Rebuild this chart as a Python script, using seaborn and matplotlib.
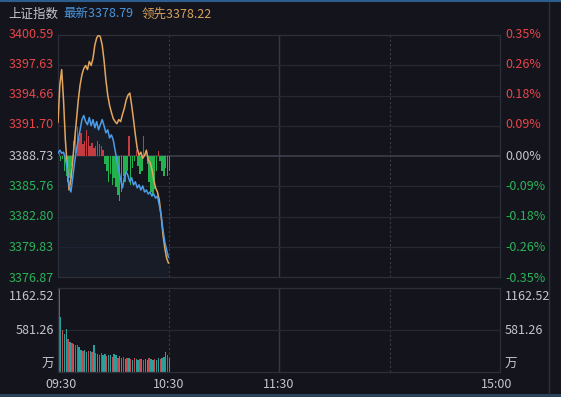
import numpy as np
import pandas as pd
import matplotlib
matplotlib.use('Agg')
import matplotlib.pyplot as plt
import seaborn as sns

sns.set_theme(style='dark')
plt.rcParams['font.family'] = ['Noto Sans CJK SC', 'DejaVu Sans']

# ---------------- data ----------------
prev_close = 3388.73
price_ticks = [3400.59, 3397.63, 3394.66, 3391.70, 3388.73, 3385.76, 3382.80, 3379.83, 3376.87]
pct_labels = ['0.35%', '0.26%', '0.18%', '0.09%', '0.00%', '-0.09%', '-0.18%', '-0.26%', '-0.35%']
vol_ticks = [1162.52, 581.26, 0]
vol_labels = ['1162.52', '581.26', '万']
time_labels = ['09:30', '10:30', '11:30', '15:00']
time_minutes = [0, 60, 120, 240]

price = [3389.0, 3389.3, 3389.0, 3389.1, 3388.5, 3387.4, 3385.9, 3385.2, 3386.6, 3388.1,
         3389.3, 3390.3, 3391.3, 3392.3, 3392.7, 3392.1, 3391.8, 3392.5, 3391.7, 3392.3,
         3391.5, 3392.1, 3391.3, 3391.8, 3392.3, 3391.7, 3391.0, 3391.3, 3390.5, 3390.8,
         3390.3, 3389.3, 3388.3, 3387.4, 3386.4, 3385.6, 3386.6, 3387.2, 3386.8, 3386.2,
         3386.6, 3385.9, 3386.2, 3385.6, 3385.9, 3385.4, 3385.8, 3385.2, 3385.4, 3385.0,
         3385.2, 3384.8, 3385.0, 3384.6, 3384.8, 3383.9, 3382.9, 3381.5, 3380.3, 3379.5,
         3378.79]
leading = [3392.0, 3395.7, 3397.2, 3394.2, 3390.3, 3387.8, 3385.4, 3386.4, 3388.3, 3390.3,
           3392.2, 3394.2, 3395.7, 3396.7, 3397.3, 3397.6, 3397.2, 3398.0, 3397.6, 3398.3,
           3399.6, 3400.3, 3400.6, 3400.4, 3399.6, 3398.1, 3396.2, 3394.7, 3393.7, 3393.0,
           3392.4, 3392.1, 3391.9, 3392.3, 3392.1, 3392.8, 3393.4, 3394.2, 3394.7, 3394.9,
           3393.7, 3392.3, 3390.8, 3389.5, 3388.8, 3389.1, 3388.5, 3388.8, 3389.3, 3388.3,
           3388.1, 3387.4, 3386.4, 3385.6, 3385.2, 3384.4, 3382.9, 3381.0, 3379.7, 3378.7,
           3378.22]
strength = [0.3, -0.5, -0.3, -1.5, -2.0, -2.5, -2.2, -1.0, 1.5, 2.6,
            2.8, 1.8, 2.3, 1.2, 1.5, 2.5, 2.0, 1.0, 1.3, 0.8,
            1.0, 1.5, 1.2, 1.0, 0.6, -0.8, -1.5, -2.5, -1.8, -2.8,
            -2.2, -3.0, -3.8, -4.4, -3.5, -2.0, -2.5, -1.5, 2.0, -2.8,
            -1.2, -0.5, 0.6, -1.0, -1.8, -1.5, 2.0, 0.5, -0.8, -2.5,
            -3.5, -3.8, -3.2, -1.5, 0.5, -0.5, -1.5, -2.0, -1.2, -2.0,
            -1.5]
volume = [1162, 760, 580, 520, 600, 450, 420, 400, 390, 380,
          370, 340, 300, 290, 300, 280, 290, 285, 270, 380,
          260, 250, 240, 260, 230, 250, 220, 240, 230, 210,
          250, 230, 200, 220, 190, 210, 180, 200, 190, 180,
          170, 190, 180, 170, 185, 175, 165, 180, 170, 190,
          175, 160, 180, 170, 190, 180, 200, 210, 280, 230,
          200]
vol_dir = ['u', 'd', 'u', 'd', 'd', 'u', 'd', 'u', 'd', 'u',
           'u', 'd', 'd', 'u', 'd', 'd', 'u', 'd', 'u', 'd',
           'u', 'd', 'u', 'u', 'd', 'd', 'u', 'd', 'd', 'u',
           'd', 'd', 'u', 'd', 'd', 'u', 'd', 'u', 'd', 'u',
           'd', 'u', 'd', 'd', 'u', 'd', 'u', 'd', 'd', 'u',
           'd', 'd', 'u', 'd', 'd', 'u', 'd', 'd', 'd', 'u',
           'd']

minutes = np.arange(len(price))
df = pd.DataFrame({'minute': minutes, 'price': price, 'leading': leading,
                   'strength': strength, 'volume': volume, 'dir': vol_dir})

# ---------------- style ----------------
BG = '#14151c'
GRID = '#262833'
FRAME = '#2c2e3a'
RED = '#e8454a'
GREEN = '#2cb35a'
GREY = '#c4c6cc'
BLUE = '#4b9ce8'
ORANGE = '#e2a65e'

W, H = 561, 397
fig = plt.figure(figsize=(W / 100, H / 100), dpi=100, facecolor=BG)


def fx(x):
    return x / W


def fy(y):
    return 1 - y / H


L, R = 58, 500
ax = fig.add_axes([fx(L), fy(277), (R - L) / W, (277 - 35) / H])
axv = fig.add_axes([fx(L), fy(372), (R - L) / W, (372 - 288) / H])

for a in (ax, axv):
    a.set_facecolor(BG)
    a.set_xlim(0, 240)
    a.set_xticks([])
    a.set_yticks([])
    for s in a.spines.values():
        s.set_color(FRAME)
        s.set_linewidth(0.9)
    a.axvline(60, color='#3a3c48', lw=0.8, ls=(0, (2, 2)), zorder=1)
    a.axvline(120, color='#363844', lw=1.0, zorder=1)
    a.axvline(180, color='#3a3c48', lw=0.8, ls=(0, (2, 2)), zorder=1)

# main panel
ax.set_ylim(price_ticks[-1], price_ticks[0])
for t in price_ticks[1:-1]:
    if t == prev_close:
        ax.axhline(t, color='#3c3f4c', lw=1.2, zorder=1)
    else:
        ax.axhline(t, color=GRID, lw=0.9, zorder=1)

ax.fill_between(df['minute'], df['price'], price_ticks[-1], color='#1a2130', alpha=0.6, lw=0, zorder=1)

bar_colors = ['#c23c42' if v > 0 else '#22b24e' for v in strength]
ax.bar(df['minute'] + 0.5, df['strength'], bottom=prev_close, width=0.8, color=bar_colors,
       linewidth=0, zorder=2)

sns.lineplot(data=df, x='minute', y='leading', ax=ax, color=ORANGE, lw=1.1, zorder=3)
sns.lineplot(data=df, x='minute', y='price', ax=ax, color=BLUE, lw=1.1, zorder=4)
ax.set_xlim(0, 240)
ax.set_ylim(price_ticks[-1], price_ticks[0])
ax.set_xlabel('')
ax.set_ylabel('')

# volume panel
axv.set_ylim(0, vol_ticks[0])
axv.axhline(vol_ticks[1], color=GRID, lw=0.9, zorder=1)
vcol = ['#c9464c' if d == 'u' else '#2a9e9a' for d in vol_dir]
axv.bar(df['minute'] + 0.5, df['volume'], width=0.75, color=vcol, linewidth=0, zorder=2)
axv.set_ylim(0, vol_ticks[0])

# ---------------- texts ----------------
FS = 9
tick_y = [34, 64, 95, 125, 156, 186, 216, 247, 278]
for i, (t, p, yy) in enumerate(zip(price_ticks, pct_labels, tick_y)):
    c = RED if i < 4 else (GREY if i == 4 else GREEN)
    fig.text(fx(54), fy(yy), f'{t:.2f}', color=c, fontsize=FS, ha='right', va='center')
    fig.text(fx(505), fy(yy), p, color=c, fontsize=FS, ha='left', va='center')

for lab, yy in zip(vol_labels, [296, 331, 364]):
    fig.text(fx(54), fy(yy), lab, color=GREY, fontsize=FS, ha='right', va='center')
    fig.text(fx(505), fy(yy), lab, color=GREY, fontsize=FS, ha='left', va='center')

for lab, m in zip(time_labels, time_minutes):
    xpix = L + (R - L) * m / 240
    if m == 0:
        xpix += 3
    if m == 240:
        xpix -= 3
    fig.text(fx(xpix), fy(385), lab, color=GREY, fontsize=FS, ha='center', va='center')

fig.text(fx(8), fy(14), '上证指数', color=GREY, fontsize=FS, ha='left', va='center')
fig.text(fx(63), fy(14), f'最新{price[-1]:.2f}', color='#4a95de', fontsize=FS, ha='left', va='center')
fig.text(fx(142), fy(14), f'领先{leading[-1]:.2f}', color='#d9a05c', fontsize=FS, ha='left', va='center')

# outer decorations
fig.add_artist(plt.Line2D([0, 1], [fy(1), fy(1)], color='#2b5d8e', lw=1.5))
fig.add_artist(plt.Line2D([0, 1], [fy(395), fy(395)], color='#2d4660', lw=2))
fig.add_artist(plt.Line2D([fx(549), fx(549)], [fy(2), fy(394)], color='#2a3040', lw=1))

fig.savefig('out.png', dpi=100, facecolor=BG)
